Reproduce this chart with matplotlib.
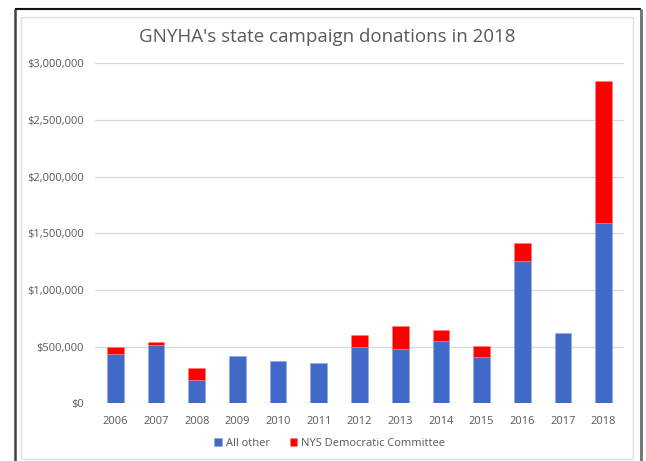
import matplotlib
matplotlib.use("Agg")
import matplotlib.pyplot as plt
from matplotlib.ticker import FuncFormatter
from matplotlib.lines import Line2D

years = ["2006", "2007", "2008", "2009", "2010", "2011", "2012",
         "2013", "2014", "2015", "2016", "2017", "2018"]
all_other = [435000, 515000, 206000, 421000, 371000, 356000, 500000,
             479000, 553000, 406000, 1259000, 624000, 1591000]
nys_dem = [59000, 26000, 103000, 0, 0, 0, 100000,
           203000, 97000, 100000, 156000, 0, 1250000]
series_names = ["All other", "NYS Democratic Committee"]
title = "GNYHA's state campaign donations in 2018"

blue = "#4169C8"
red = "#FF0000"
txt = "#595959"

plt.rcParams['font.family'] = ['Open Sans', 'DejaVu Sans']

W, H = 646, 461
fig = plt.figure(figsize=(W / 100, H / 100), dpi=100)

def fx(px):
    return px / W

def fy(py):
    return (H - py) / H

def fline(x0, y0, x1, y1, color, lw):
    fig.add_artist(Line2D([fx(x0), fx(x1)], [fy(y0), fy(y1)],
                          transform=fig.transFigure, color=color, linewidth=lw,
                          solid_capstyle="butt"))

# outer frame (left, top, right), open at the bottom
fline(15, 9.5, 15, 470, "#444444", 1.8)
fline(15, 9.5, 641, 9.5, "#111111", 1.5)
fline(641, 9.5, 641, 470, "#777777", 2.2)
# inner chart border
fline(21, 17, 633, 17, "#e0e0e0", 1.0)
fline(21, 17, 21, 459, "#e0e0e0", 1.0)
fline(633, 17, 633, 459, "#e0e0e0", 1.0)
fline(21, 459, 633, 459, "#e0e0e0", 1.0)

ax = fig.add_axes([fx(95), fy(403.3), (624 - 95) / W, (403.3 - 63.3) / H])
x = list(range(len(years)))
ax.bar(x, all_other, width=0.41, color=blue, edgecolor="#8fa8e0", linewidth=0.4,
       label=series_names[0], zorder=3)
red_bars = ax.bar(x, nys_dem, width=0.41, bottom=all_other, color=red,
                  edgecolor="#ff8080", linewidth=0.4, label=series_names[1], zorder=3)
for b, v in zip(red_bars, nys_dem):
    if v == 0:
        b.set_linewidth(0)

ax.set_xlim(-0.5, len(years) - 0.5)
ax.set_ylim(0, 3000000)
ax.set_yticks(range(0, 3000001, 500000))
ax.yaxis.set_major_formatter(FuncFormatter(lambda v, p: "${:,.0f}".format(v)))
ax.set_xticks(x)
ax.set_xticklabels(years)
ax.grid(axis="y", color="#d9d9d9", linewidth=0.9, zorder=0)
for s in ax.spines.values():
    s.set_visible(False)
ax.tick_params(axis="both", length=0, labelsize=8, colors=txt)
ax.tick_params(axis="y", pad=8)
ax.tick_params(axis="x", pad=9)

fig.text(fx(327), fy(37), title, ha="center", va="center",
         fontsize=13.5, color=txt)

leg = fig.legend(loc="center", bbox_to_anchor=(fx((218 + 441) / 2), fy(443)),
                 ncol=2, frameon=False, fontsize=8, handlelength=0.7,
                 handleheight=0.7, handletextpad=0.3, columnspacing=1.8)
for t in leg.get_texts():
    t.set_color(txt)

fig.savefig("out.png", dpi=100)
